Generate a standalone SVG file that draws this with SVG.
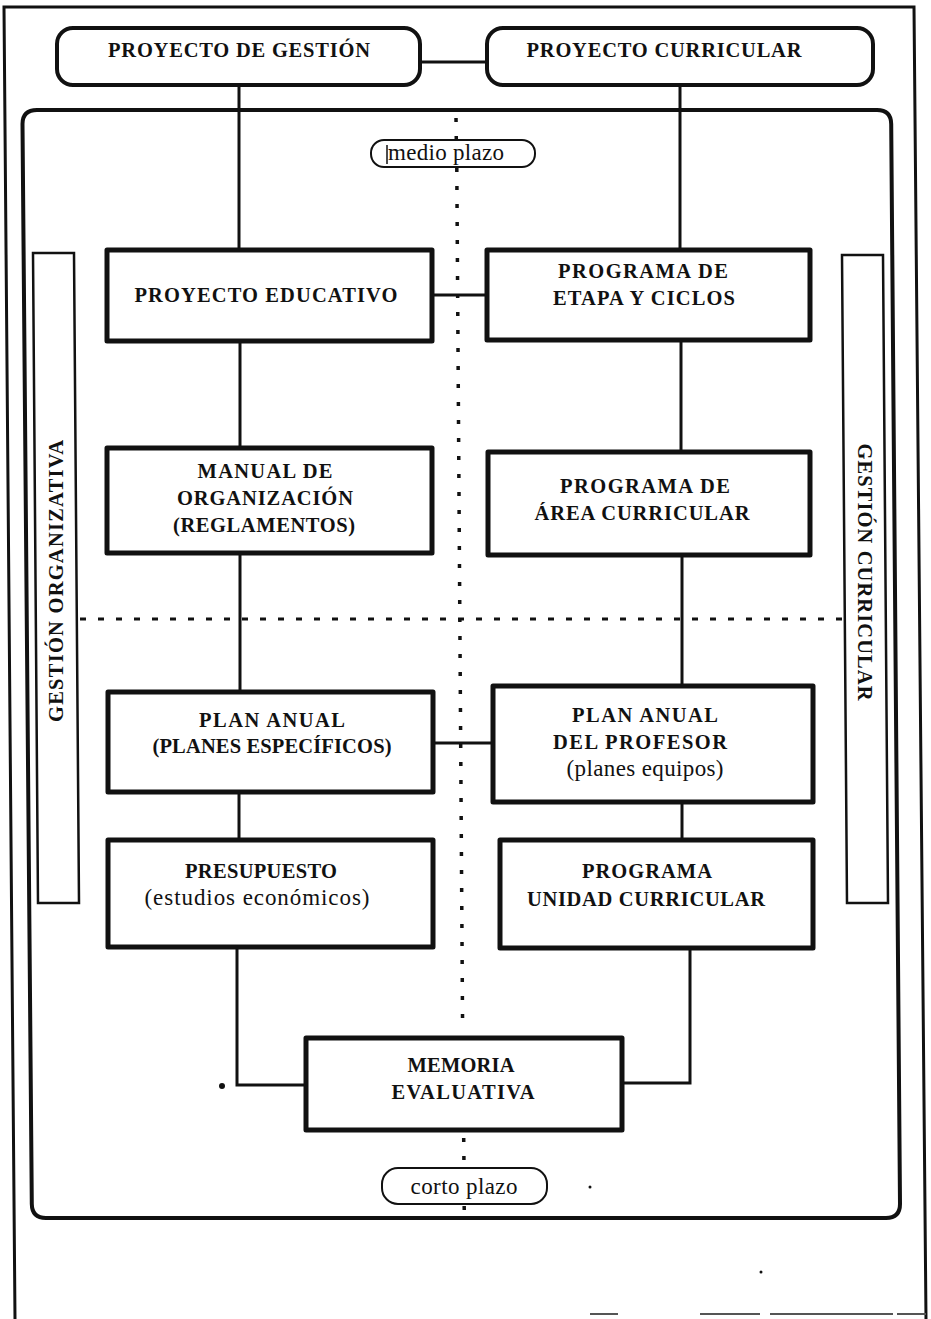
<svg xmlns="http://www.w3.org/2000/svg" width="931" height="1319" viewBox="0 0 931 1319">
  <style>
    .frame { fill: none; stroke: #111; stroke-width: 3; }
    .inner { fill: none; stroke: #111; stroke-width: 4; }
    .box { fill: #fff; stroke: #111; stroke-width: 5; stroke-linejoin: round; }
    .rbox { fill: #fff; stroke: #111; stroke-width: 4; }
    .bar { fill: #fff; stroke: #111; stroke-width: 2.5; }
    .pill { fill: #fff; stroke: #111; stroke-width: 2; }
    .conn { fill: none; stroke: #111; stroke-width: 3; }
    .vdots { fill: none; stroke: #111; stroke-width: 3.5; stroke-dasharray: 4 14; }
    .hdots { fill: none; stroke: #111; stroke-width: 3; stroke-dasharray: 6 12; }
    .cap { font-family: "Liberation Serif", "DejaVu Serif", serif; font-weight: bold; font-size: 20.5px; fill: #111; text-anchor: middle; }
    .low { font-family: "Liberation Serif", "DejaVu Serif", serif; font-size: 23px; fill: #111; text-anchor: middle; }
    .speck { fill: #111; }
    .worn { stroke: #555; stroke-width: 2; }
  </style>

  <rect width="931" height="1319" fill="#fff"/>

  <!-- page frame (open at the bottom, only worn fragments remain) -->
  <path class="frame" d="M15,1319 L4,7 L914,7 L926,1319"/>
  <g id="frame-bottom">
    <line class="worn" x1="590" y1="1314" x2="618" y2="1314"/>
    <line class="worn" x1="700" y1="1314" x2="760" y2="1314"/>
    <line class="worn" x1="770" y1="1314" x2="893" y2="1314"/>
    <line class="worn" x1="897" y1="1314" x2="926" y2="1314"/>
  </g>

  <!-- large rounded enclosure -->
  <path class="inner" d="M37,110 H877 Q891,110 891.2,124 L900,1204 Q900,1218 886,1218 H46 Q32,1218 31.8,1204 L22.5,124 Q22.5,110 37,110 Z"/>

  <!-- time-scale dividers -->
  <g id="dividers">
    <line class="vdots" x1="456" y1="118" x2="456.3" y2="140"/>
    <line class="vdots" x1="456.8" y1="168" x2="462.6" y2="1028"/>
    <line class="vdots" x1="463.7" y1="1138" x2="464" y2="1166"/>
    <line class="vdots" x1="464.2" y1="1206" x2="464.3" y2="1218"/>
    <line class="hdots" x1="80" y1="619" x2="843" y2="619"/>
  </g>

  <!-- connectors -->
  <g id="connectors">
    <line class="conn" x1="420" y1="62" x2="487" y2="62"/>
    <line class="conn" x1="239" y1="85" x2="239" y2="250"/>
    <line class="conn" x1="680" y1="85" x2="680" y2="250"/>
    <line class="conn" x1="432" y1="295" x2="487" y2="295"/>
    <line class="conn" x1="240" y1="341" x2="240" y2="448"/>
    <line class="conn" x1="681" y1="340" x2="681" y2="452"/>
    <line class="conn" x1="240" y1="553" x2="240" y2="692"/>
    <line class="conn" x1="682" y1="555" x2="682" y2="686"/>
    <line class="conn" x1="433" y1="743" x2="493" y2="743"/>
    <line class="conn" x1="239" y1="792" x2="239" y2="840"/>
    <line class="conn" x1="682" y1="802" x2="682" y2="840"/>
    <polyline class="conn" points="237,947 237,1085 306,1085"/>
    <polyline class="conn" points="690,948 690,1083 622,1083"/>
  </g>

  <!-- top level projects -->
  <g id="proyecto-gestion">
    <rect class="rbox" x="57" y="28" width="363" height="57" rx="16"/>
    <text class="cap" x="239" y="57" textLength="262">PROYECTO DE GESTIÓN</text>
  </g>
  <g id="proyecto-curricular">
    <rect class="rbox" x="487" y="28" width="386" height="57" rx="16"/>
    <text class="cap" x="664" y="57" textLength="275">PROYECTO CURRICULAR</text>
  </g>

  <!-- horizon labels -->
  <g id="medio-plazo">
    <rect class="pill" x="371" y="140" width="164" height="27" rx="13"/>
    <line x1="387" y1="145" x2="387" y2="164" stroke="#111" stroke-width="1.5"/>
    <text class="low" x="446" y="160" textLength="116">medio plazo</text>
  </g>
  <g id="corto-plazo">
    <rect class="pill" x="382" y="1168" width="165" height="36" rx="16"/>
    <text class="low" x="464" y="1194" textLength="107">corto plazo</text>
  </g>

  <!-- side bands -->
  <g id="gestion-organizativa">
    <polygon class="bar" points="33,253 74,253 79,903 38,903"/>
    <text class="cap" transform="translate(63,581) rotate(-90)" x="0" y="0" textLength="282">GESTIÓN ORGANIZATIVA</text>
  </g>
  <g id="gestion-curricular">
    <polygon class="bar" points="842,255 883,255 888,903 847,903"/>
    <text class="cap" transform="translate(858,572) rotate(90)" x="0" y="0" textLength="257">GESTIÓN CURRICULAR</text>
  </g>

  <!-- organisational column -->
  <g id="proyecto-educativo">
    <rect class="box" x="107" y="250" width="325" height="91"/>
    <text class="cap" x="266" y="302" textLength="263">PROYECTO EDUCATIVO</text>
  </g>
  <g id="manual-organizacion">
    <rect class="box" x="107" y="448" width="325" height="105"/>
    <text class="cap" x="265" y="478" textLength="135">MANUAL DE</text>
    <text class="cap" x="265" y="505" textLength="176">ORGANIZACIÓN</text>
    <text class="cap" x="264" y="532" textLength="182">(REGLAMENTOS)</text>
  </g>
  <g id="plan-anual">
    <rect class="box" x="108" y="692" width="325" height="100"/>
    <text class="cap" x="272" y="727" textLength="146">PLAN ANUAL</text>
    <text class="cap" x="272" y="753" textLength="239">(PLANES ESPECÍFICOS)</text>
  </g>
  <g id="presupuesto">
    <rect class="box" x="108" y="840" width="325" height="107"/>
    <text class="cap" x="261" y="878" textLength="152">PRESUPUESTO</text>
    <text class="low" x="257" y="905" textLength="225">(estudios económicos)</text>
  </g>

  <!-- curricular column -->
  <g id="programa-etapa">
    <rect class="box" x="487" y="250" width="323" height="90"/>
    <text class="cap" x="643" y="278" textLength="170">PROGRAMA DE</text>
    <text class="cap" x="644" y="305" textLength="182">ETAPA Y CICLOS</text>
  </g>
  <g id="programa-area">
    <rect class="box" x="488" y="452" width="322" height="103"/>
    <text class="cap" x="645" y="493" textLength="170">PROGRAMA DE</text>
    <text class="cap" x="642" y="520" textLength="215">ÁREA CURRICULAR</text>
  </g>
  <g id="plan-anual-profesor">
    <rect class="box" x="493" y="686" width="320" height="116"/>
    <text class="cap" x="645" y="722" textLength="146">PLAN ANUAL</text>
    <text class="cap" x="640" y="749" textLength="174">DEL PROFESOR</text>
    <text class="low" x="645" y="776" textLength="157">(planes equipos)</text>
  </g>
  <g id="programa-unidad">
    <rect class="box" x="500" y="840" width="313" height="108"/>
    <text class="cap" x="647" y="878" textLength="130">PROGRAMA</text>
    <text class="cap" x="646" y="906" textLength="238">UNIDAD CURRICULAR</text>
  </g>

  <!-- closing evaluation -->
  <g id="memoria-evaluativa">
    <rect class="box" x="306" y="1038" width="316" height="92"/>
    <text class="cap" x="461" y="1072" textLength="107">MEMORIA</text>
    <text class="cap" x="463" y="1099" textLength="143">EVALUATIVA</text>
  </g>

  <!-- print specks -->
  <g id="specks">
    <circle class="speck" cx="222" cy="1086" r="3"/>
    <circle class="speck" cx="590" cy="1187" r="1.5"/>
    <circle class="speck" cx="761" cy="1272" r="1.5"/>
  </g>
</svg>
